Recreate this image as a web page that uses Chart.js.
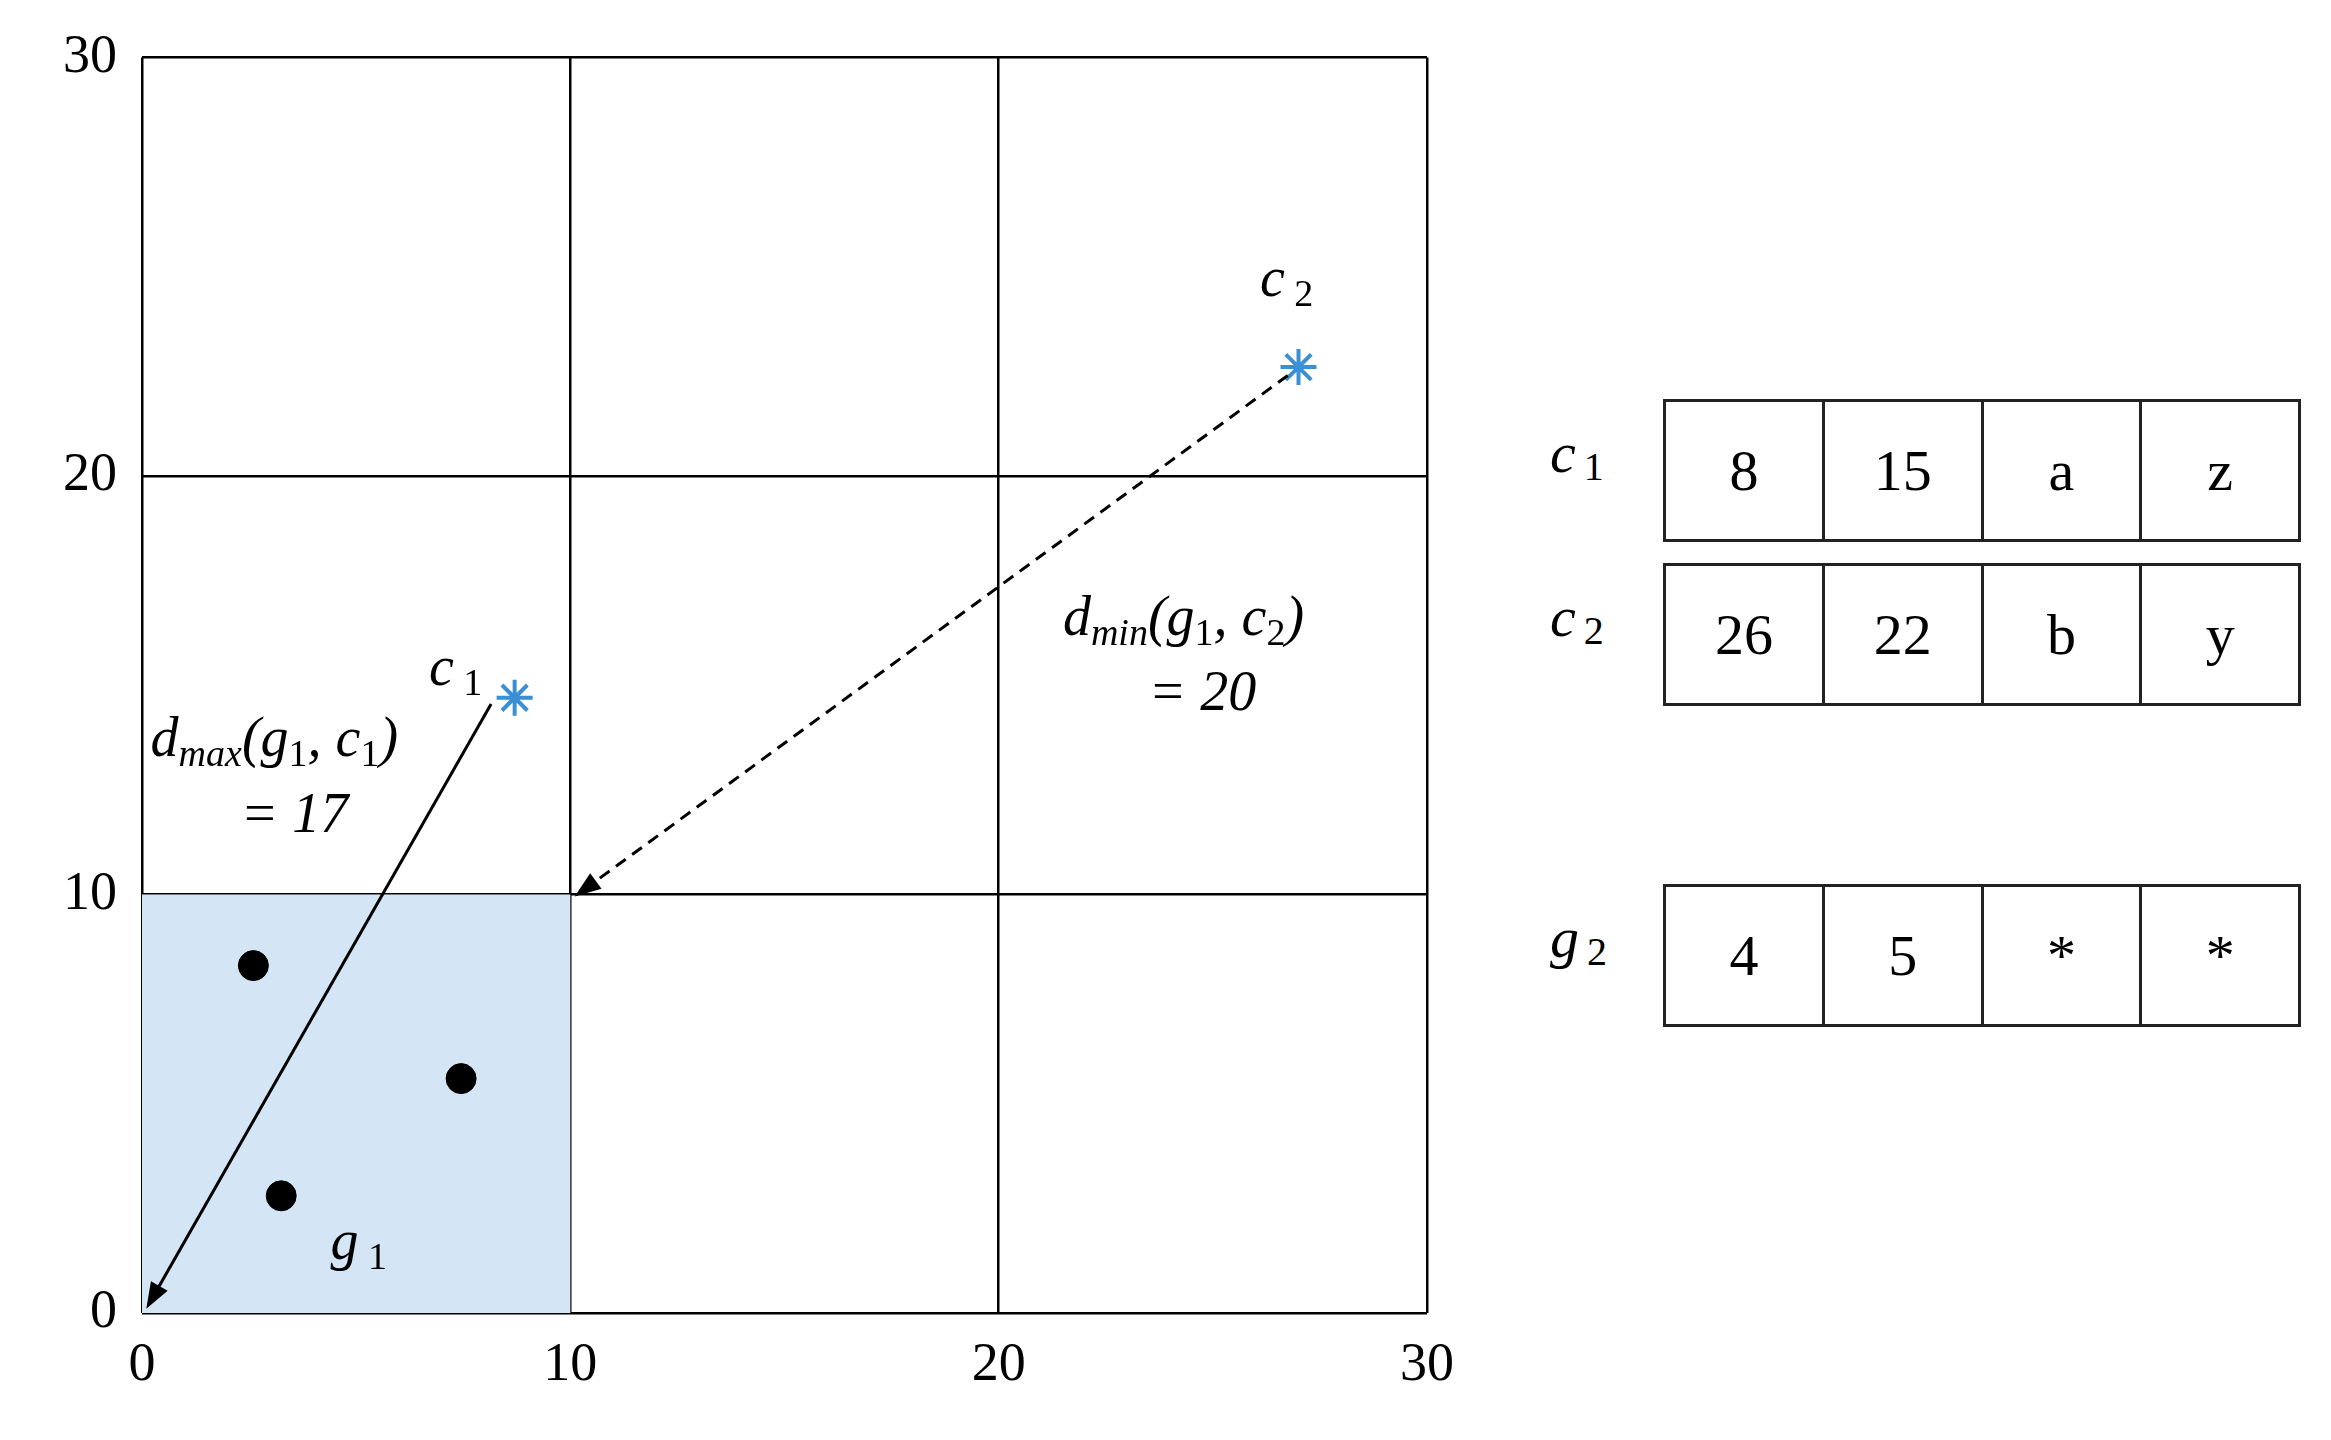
<!DOCTYPE html>
<html>
<head>
<meta charset="utf-8">
<script src="https://cdn.jsdelivr.net/npm/chart.js@4.4.1/dist/chart.umd.min.js"></script>
<style>
  body { margin: 0; background: #fff; width: 2331px; height: 1440px; position: relative; overflow: hidden; font-family: "Liberation Serif", serif; }
  #wrap { position: absolute; left: 0; top: 0; width: 1500px; height: 1440px; }
  .row { position: absolute; left: 1666px; width: 635px; display: flex; }
  .row .cell { flex: 1; border: 3px solid #222; margin-left: -3px; display: flex; align-items: center; justify-content: center; font-size: 58px; box-sizing: border-box; }
  .lbl { position: absolute; left: 1550px; font-size: 58px; font-style: italic; }
  .lbl sub { font-style: normal; font-size: 40px; vertical-align: baseline; position: relative; top: 8px; margin-left: 8px; }
</style>
</head>
<body>
<div id="wrap"><canvas id="chart" width="1500" height="1440" style="width:1500px;height:1440px"></canvas></div>
<div id="table"></div>
<script>
// grid cells / axis
const tickValues = [0, 10, 20, 30];
// points in cell g1
const groupPoints = [{ x: 2.6, y: 8.3 }, { x: 7.45, y: 5.6 }, { x: 3.25, y: 2.8 }];
// cluster centres
const centres = [{ x: 8.7, y: 14.7 }, { x: 27.0, y: 22.6 }];
// arrows: [fromX, fromY, toX, toY]
const arrowMax = [8.15, 14.55, 0.1, 0.1];
const arrowMin = [26.75, 22.4, 10.1, 9.95];
// table rows
const rowNames = ['c1', 'c2', 'g2'];
const rowValues = [['8', '15', 'a', 'z'], ['26', '22', 'b', 'y'], ['4', '5', '*', '*']];
const rowTops = [399, 563, 884];

// build table
const tbl = document.getElementById('table');
rowNames.forEach((name, i) => {
  const lab = document.createElement('div');
  lab.className = 'lbl';
  lab.style.top = (rowTops[i] + 20) + 'px';
  lab.innerHTML = name[0] + '<sub>' + name.slice(1) + '</sub>';
  tbl.appendChild(lab);
  const row = document.createElement('div');
  row.className = 'row';
  row.style.top = rowTops[i] + 'px';
  row.style.height = '143px';
  rowValues[i].forEach(v => {
    const c = document.createElement('div');
    c.className = 'cell';
    c.textContent = v;
    row.appendChild(c);
  });
  tbl.appendChild(row);
});

function drawArrow(ctx, xs, ys, a, dashed) {
  const x1 = xs.getPixelForValue(a[0]), y1 = ys.getPixelForValue(a[1]);
  const x2 = xs.getPixelForValue(a[2]), y2 = ys.getPixelForValue(a[3]);
  ctx.save();
  ctx.strokeStyle = '#000';
  ctx.fillStyle = '#000';
  ctx.lineWidth = 3;
  ctx.setLineDash(dashed ? [12, 8] : []);
  const ang = Math.atan2(y2 - y1, x2 - x1);
  const hl = 28;
  ctx.beginPath();
  ctx.moveTo(x1, y1);
  ctx.lineTo(x2 - Math.cos(ang) * hl * 0.8, y2 - Math.sin(ang) * hl * 0.8);
  ctx.stroke();
  ctx.setLineDash([]);
  ctx.beginPath();
  ctx.moveTo(x2, y2);
  ctx.lineTo(x2 - hl * Math.cos(ang - 0.35), y2 - hl * Math.sin(ang - 0.35));
  ctx.lineTo(x2 - hl * Math.cos(ang + 0.35), y2 - hl * Math.sin(ang + 0.35));
  ctx.closePath();
  ctx.fill();
  ctx.restore();
}

// runs: [text, 'n'|'s', upright]
function drawRuns(ctx, x, y, runs) {
  ctx.save();
  ctx.fillStyle = '#000';
  ctx.textBaseline = 'alphabetic';
  runs.forEach(([t, kind, upright]) => {
    const size = kind === 's' ? 38 : 56;
    ctx.font = (upright ? '' : 'italic ') + size + 'px "Liberation Serif"';
    ctx.fillText(t, x, y + (kind === 's' ? 10 : 0));
    x += ctx.measureText(t).width;
  });
  ctx.restore();
}

const overlay = {
  id: 'overlay',
  beforeDatasetsDraw(chart) {
    const { ctx, scales: { x, y } } = chart;
    ctx.save();
    ctx.fillStyle = '#d4e6f6';
    const l = x.getPixelForValue(0), r = x.getPixelForValue(10);
    const t = y.getPixelForValue(10), b = y.getPixelForValue(0);
    ctx.fillRect(l, t, r - l, b - t);
    ctx.restore();
  },
  afterDatasetsDraw(chart) {
    const { ctx, scales: { x, y } } = chart;
    drawArrow(ctx, x, y, arrowMax, false);
    drawArrow(ctx, x, y, arrowMin, true);
    const P = (vx, vy) => [x.getPixelForValue(vx), y.getPixelForValue(vy)];
    let p;
    p = P(6.7, 15.0); drawRuns(ctx, p[0], p[1], [['c', 'n'], [' 1', 's', true]]);
    p = P(26.1, 24.3); drawRuns(ctx, p[0], p[1], [['c', 'n'], [' 2', 's', true]]);
    p = P(4.4, 1.3); drawRuns(ctx, p[0], p[1], [['g', 'n'], [' 1', 's', true]]);
    p = P(0.2, 13.3); drawRuns(ctx, p[0], p[1], [['d', 'n'], ['max', 's'], ['(g', 'n'], ['1', 's', true], [', c', 'n'], ['1', 's', true], [')', 'n']]);
    p = P(2.3, 11.5); drawRuns(ctx, p[0], p[1], [['= 17', 'n']]);
    p = P(21.5, 16.2); drawRuns(ctx, p[0], p[1], [['d', 'n'], ['min', 's'], ['(g', 'n'], ['1', 's', true], [', c', 'n'], ['2', 's', true], [')', 'n']]);
    p = P(23.5, 14.4); drawRuns(ctx, p[0], p[1], [['= 20', 'n']]);
  }
};

new Chart(document.getElementById('chart'), {
  type: 'scatter',
  data: {
    datasets: [
      { data: groupPoints, pointRadius: 15, pointBackgroundColor: '#000', pointBorderColor: '#000' },
      { data: centres, pointStyle: 'star', pointRadius: 18, pointBorderWidth: 4, pointBorderColor: '#3b8fd4', pointBackgroundColor: '#3b8fd4' }
    ]
  },
  options: {
    responsive: false,
    animation: false,
    devicePixelRatio: 1,
    layout: { padding: { top: 33, right: 73, bottom: 20, left: 0 } },
    plugins: { legend: { display: false }, tooltip: { enabled: false } },
    scales: {
      x: {
        type: 'linear', min: 0, max: 30,
        afterFit: s => { s.height = 107; },
        afterBuildTicks: s => { s.ticks = tickValues.map(v => ({ value: v })); },
        grid: { color: '#000', lineWidth: 2.5, drawTicks: false },
        border: { display: false },
        ticks: { color: '#000', padding: 20, font: { family: 'Liberation Serif', size: 54 } }
      },
      y: {
        type: 'linear', min: 0, max: 30,
        afterFit: s => { s.width = 142; },
        afterBuildTicks: s => { s.ticks = tickValues.map(v => ({ value: v })); },
        grid: { color: '#000', lineWidth: 2.5, drawTicks: false },
        border: { display: false },
        ticks: { color: '#000', padding: 25, font: { family: 'Liberation Serif', size: 54 } }
      }
    }
  },
  plugins: [overlay]
});
</script>
</body>
</html>
